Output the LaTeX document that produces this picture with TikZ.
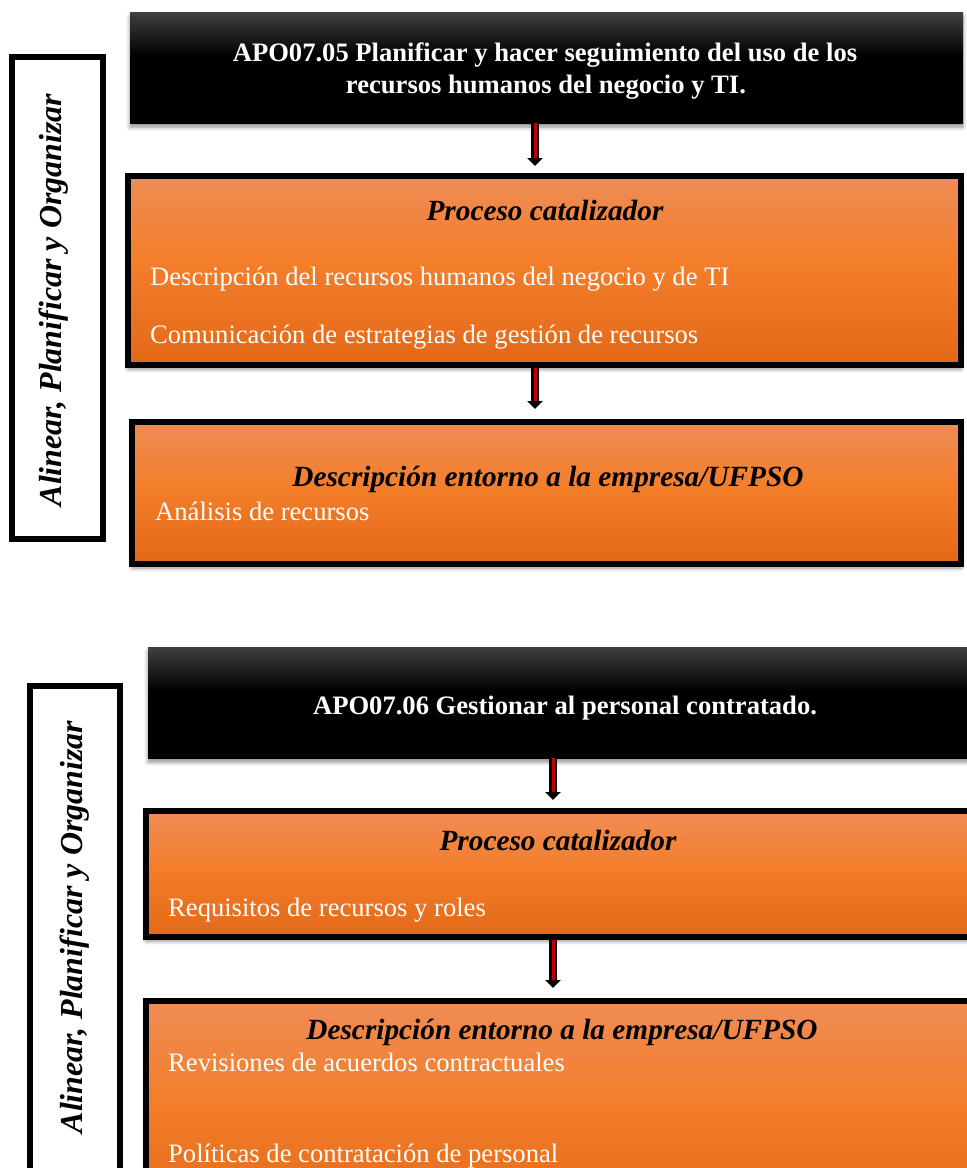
\documentclass[tikz,border=0pt]{standalone}
\usepackage{fontspec}
\setmainfont{Liberation Serif}
\usetikzlibrary{shadows.blur,arrows.meta}

\definecolor{orTop}{RGB}{239,140,86}
\definecolor{orMid}{RGB}{243,126,42}
\definecolor{orBot}{RGB}{226,104,24}
\definecolor{blkTop}{RGB}{64,64,64}
\definecolor{arrowRed}{RGB}{190,0,0}

% vertical fills (the path spans 25bp..75bp of the shading)
\pgfdeclareverticalshading{blackgrad}{100bp}{color(0bp)=(black); color(25bp)=(black); color(55bp)=(black); color(75bp)=(blkTop); color(100bp)=(blkTop)}
\pgfdeclareverticalshading{orangegrad}{100bp}{color(0bp)=(orBot); color(25bp)=(orBot); color(52bp)=(orMid); color(75bp)=(orTop); color(100bp)=(orTop)}

\tikzset{
  boxshadow/.style={blur shadow={shadow xshift=0pt, shadow yshift=-4pt, shadow blur radius=4pt, shadow opacity=45}},
  sidebox/.style={draw, line width=6pt, fill=white, anchor=north west, inner sep=0pt},
  blackbox/.style={shading=blackgrad, anchor=north west, inner sep=0pt, outer sep=0pt, boxshadow},
  orangebox/.style={draw, line width=6pt, shading=orangegrad, anchor=north west, inner sep=0pt, boxshadow},
  sidetxt/.style={rotate=90, anchor=base, inner sep=0pt, font=\fontsize{32}{38}\selectfont\bfseries\itshape},
  headtxt/.style={anchor=base, inner sep=0pt, text=white, font=\fontsize{26.6}{32}\selectfont\bfseries},
  subtxt/.style={anchor=base, inner sep=0pt, font=\fontsize{29.3}{35}\selectfont\bfseries\itshape},
  bodytxt/.style={anchor=base west, inner sep=0pt, text=white, font=\fontsize{26.6}{32}\selectfont},
  arrowout/.style={line width=8.5pt, black, -{Triangle[width=15pt,length=8pt]}},
  arrowin/.style={line width=3pt, arrowRed, shorten >=8pt}
}

\begin{document}
\begin{tikzpicture}[x=1pt, y=-1pt]
  \useasboundingbox (0,0) rectangle (967,1168);
  \clip (0,0) rectangle (967,1168);

  % ---------- APO07.05 ----------
  \node[sidebox, minimum width=91pt, minimum height=482pt] (side1) at (9,54) {};
  \node[sidetxt] (side1t) at (61,300) {Alinear, Planificar y Organizar};

  \node[blackbox, minimum width=833pt, minimum height=111pt] (blk1) at (130,12) {};
  \node[headtxt] (blk1a) at (545,61) {APO07.05 Planificar y hacer seguimiento del uso de los};
  \node[headtxt] (blk1b) at (546,93) {recursos humanos del negocio y TI.};

  \node[orangebox, minimum width=833pt, minimum height=189pt] (or1) at (125,173) {};
  \node[subtxt] (or1h) at (545,220) {Proceso catalizador};
  \node[bodytxt] (or1a) at (150,285) {Descripción del recursos humanos del negocio y de TI};
  \node[bodytxt] (or1b) at (150,343) {Comunicación de estrategias de gestión de recursos};

  \node[orangebox, minimum width=829pt, minimum height=142pt] (or2) at (129,419) {};
  \node[subtxt] (or2h) at (548,486) {Descripción entorno a la empresa/UFPSO};
  \node[bodytxt] (or2a) at (155,520) {Análisis de recursos};

  \coordinate (t1) at (535,166);
  \coordinate (t2) at (535,409);
  \draw[arrowout] (blk1.south -| t1) -- (t1);
  \draw[arrowin]  (blk1.south -| t1) -- (t1);
  \draw[arrowout] (or1.south -| t2) -- (t2);
  \draw[arrowin]  (or1.south -| t2) -- (t2);

  % ---------- APO07.06 ----------
  \node[sidebox, minimum width=90pt, minimum height=500pt] (side2) at (27,683) {};
  \node[sidetxt] (side2t) at (82,927) {Alinear, Planificar y Organizar};

  \node[blackbox, minimum width=834pt, minimum height=111pt] (blk2) at (148,647) {};
  \node[headtxt] (blk2a) at (565,714) {APO07.06 Gestionar al personal contratado.};

  \node[orangebox, minimum width=840pt, minimum height=126pt] (or3) at (143,808) {};
  \node[subtxt] (or3h) at (558,850) {Proceso catalizador};
  \node[bodytxt] (or3a) at (168,916) {Requisitos de recursos y roles};

  \node[orangebox, minimum width=840pt, minimum height=220pt] (or4) at (143,998) {};
  \node[subtxt] (or4h) at (562,1039) {Descripción entorno a la empresa/UFPSO};
  \node[bodytxt] (or4a) at (168,1071) {Revisiones de acuerdos contractuales};
  \node[bodytxt] (or4b) at (168,1162) {Políticas de contratación de personal};

  \coordinate (t3) at (553,800);
  \coordinate (t4) at (553,988);
  \draw[arrowout] (blk2.south -| t3) -- (t3);
  \draw[arrowin]  (blk2.south -| t3) -- (t3);
  \draw[arrowout] (or3.south -| t4) -- (t4);
  \draw[arrowin]  (or3.south -| t4) -- (t4);
\end{tikzpicture}
\end{document}
